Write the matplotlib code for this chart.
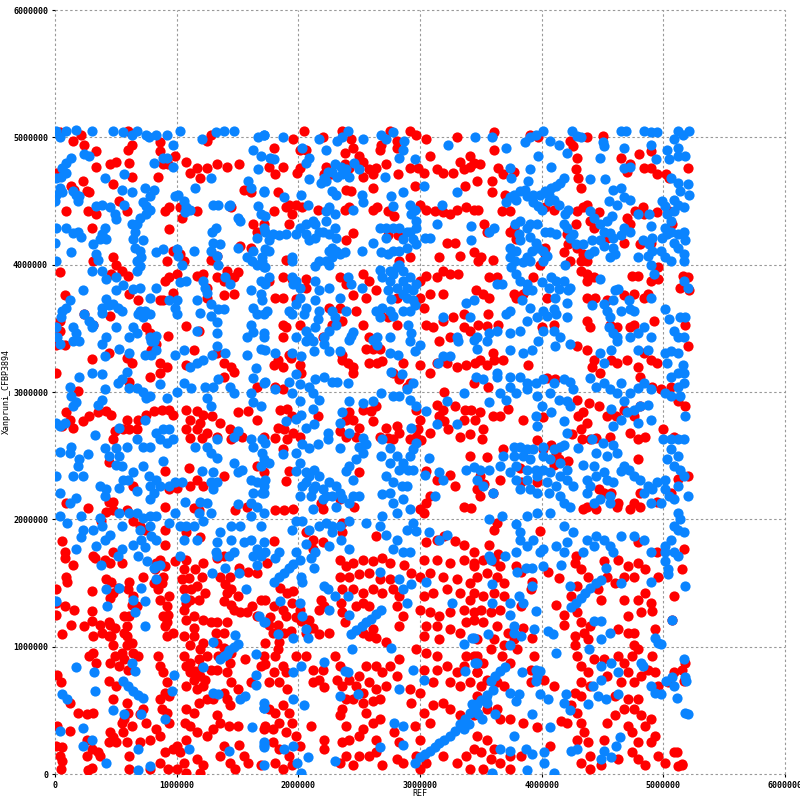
import matplotlib
matplotlib.use('Agg')
import matplotlib.pyplot as plt

# dot plot hits as (REF position, query position), in units of 10 kb
red_hits = [
    # 0-1.75 Mb x 0-1.7 Mb
    (8,170),(15,164),(9,155),(10,151),(1,145),(30,144),(33,170),(41,168),(45,166),(42,153),(46,151),(48,142),(45,138),
    (55,166),(61,151),(60,145),(64,140),(63,133),(67,132),(57,124),(59,116),(59,108),(52,146),(72,155),(81,150),(82,161),
    (86,168),(90,163),(89,155),(85,145),(86,137),(92,132),(93,125),(90,116),(92,108),(97,111),(99,167),(108,168),(106,161),
    (110,154),(115,161),(122,166),(121,155),(112,145),(111,137),(118,137),(123,142),(133,170),(140,149),(141,142),(145,145),
    (139,136),(145,133),(150,140),(147,129),(152,127),(151,162),(159,159),(166,158),(169,137),(162,132),(106,129),(108,121),
    (114,115),(122,121),(128,119),(132,111),(139,111),(141,119),(114,108),(122,103),(133,103),(139,99),(145,95),(1,134),
    (8,132),(16,129),(30,128),(1,125),(13,117),(24,116),(30,120),(37,117),(45,117),(49,115),(46,108),(6,110),(44,108),
    (48,101),(49,93),(45,87),(28,93),(34,87),(31,95),(59,101),(64,95),(68,93),(57,90),(60,82),(53,85),(44,73),(50,69),
    (48,59),(2,78),(5,72),(12,56),(19,48),(26,47),(31,48),(2,38),(12,34),(1,22),(6,21),(4,14),(6,10),(5,4),(26,27),(30,20),
    (26,14),(35,17),(30,5),(27,3),(37,14),(45,33),(48,29),(44,25),(50,25),(55,40),(56,33),(59,25),(57,43),(59,56),(60,48),
    (63,38),(61,14),(70,25),(78,27),(61,4),(78,4),(86,9),(90,17),(97,20),(100,22),(93,4),(70,47),(72,51),(75,40),(85,93),
    (86,85),(89,80),(92,72),(90,64),(94,61),(86,59),(88,51),(92,48),(94,40),(83,35),(86,30),(106,93),(111,87),(111,80),
    (114,74),(108,69),(119,77),(122,69),(117,67),(128,82),(125,93),(118,90),(125,59),(118,56),(108,51),(114,48),(107,40),
    (111,38),(117,33),(125,30),(130,35),(108,27),(103,17),(106,9),(117,12),(122,7),(133,46),(136,40),(144,54),(143,38),
    (150,38),(139,22),(136,14),(144,9),(148,4),(155,14),(159,9),(169,7),(151,23),(144,87),(141,80),(145,72),(150,67),
    (139,64),(161,72),(169,85),(172,93),(156,90),(133,119),(134,93),(133,82),(130,59),(31,108),(39,111),(44,119),(104,153),
    (108,134),(158,127),(106,108),(111,101),(119,98),(141,59),(100,4),(108,1),(119,1),(172,35),(166,124),(115,81),(121,84),
    (108,85),(123,74),(83,166),(88,150),(94,140),(89,124),(92,119),(61,124),(57,111),(63,103),(55,95),(117,148),(106,145),
    (114,124),(136,155),(144,155),
    # 1.75-3.45 Mb x 0-1.7 Mb
    (174,166),(173,137),(177,123),(183,117),(187,129),(190,124),(195,134),(191,142),(196,144),(185,146),(180,132),(198,123),
    (188,111),(194,112),(179,111),(176,117),(173,103),(184,104),(219,137),(217,129),(221,132),(209,121),(212,115),(217,110),
    (201,129),(202,120),(206,111),(225,111),(234,168),(239,163),(245,166),(253,168),(261,167),(269,170),(275,166),(234,155),
    (242,155),(250,157),(258,158),(267,153),(275,153),(236,145),(245,145),(253,142),(261,145),(269,142),(278,145),(283,140),
    (281,132),(286,124),(283,116),(235,134),(236,127),(238,119),(247,132),(253,134),(258,132),(261,114),(258,108),(253,111),
    (264,107),(272,104),(287,164),(293,158),(303,168),(314,168),(325,166),(336,168),(344,163),(300,155),(308,158),(319,155),
    (330,153),(341,150),(303,140),(311,142),(322,145),(333,142),(341,137),(300,129),(308,127),(316,124),(325,127),(336,129),
    (344,127),(305,116),(314,116),(325,114),(333,111),(338,119),(303,108),(316,106),(173,86),(181,93),(187,85),(180,80),
    (190,80),(176,72),(184,72),(191,67),(183,98),(198,93),(206,93),(212,82),(220,82),(217,74),(221,68),(212,72),(230,93),
    (234,85),(232,74),(236,69),(239,59),(245,59),(253,56),(261,57),(267,59),(250,77),(242,74),(247,69),(256,85),(264,85),
    (269,80),(275,85),(258,72),(253,64),(264,67),(272,69),(281,77),(283,90),(292,67),(300,64),(293,56),(297,98),(305,95),
    (314,93),(303,82),(314,82),(322,85),(330,80),(311,72),(325,72),(333,69),(341,72),(347,80),(338,93),(347,93),(336,85),
    (176,51),(181,48),(187,54),(192,48),(195,40),(184,40),(179,35),(190,33),(198,30),(173,38),(179,25),(184,20),(192,14),
    (181,9),(187,4),(195,7),(201,22),(210,38),(221,27),(221,20),(236,51),(234,46),(239,38),(236,25),(242,27),(239,14),
    (245,7),(234,9),(250,14),(258,14),(264,17),(253,35),(261,40),(267,43),(256,48),(264,27),(250,30),(269,7),(279,33),
    (283,25),(281,12),(286,9),(296,38),(303,48),(311,54),(319,56),(325,51),(308,40),(300,27),(297,14),(305,9),(300,4),
    (319,14),(330,9),(338,14),(344,20),(341,4),(333,46),(344,46),(347,61),
    # 3.45-5.2 Mb x 0-1.7 Mb
    (344,166),(352,168),(361,167),(366,163),(347,155),(355,158),(363,155),(369,150),(344,142),(352,140),(361,142),(369,140),
    (350,129),(358,127),(366,129),(344,121),(352,119),(363,116),(372,111),(377,106),(369,101),(361,106),(347,106),(383,132),
    (385,115),(392,107),(392,151),(391,145),(379,163),(383,159),(405,159),(414,154),(412,133),(418,125),(418,117),(427,166),
    (432,161),(438,155),(429,148),(424,140),(429,127),(432,119),(435,111),(427,108),(440,116),(438,106),(446,145),(454,155),
    (451,167),(449,137),(463,168),(471,163),(479,166),(476,155),(468,155),(460,150),(485,142),(479,137),(468,137),(490,134),
    (482,127),(491,128),(471,124),(463,114),(471,111),(476,111),(476,101),(493,114),(507,121),(515,161),(509,140),(485,161),
    (496,155),(344,93),(352,87),(347,80),(355,74),(363,72),(369,69),(350,69),(374,87),(367,93),(358,98),(380,98),(394,93),
    (391,82),(391,72),(402,74),(410,69),(427,101),(429,93),(432,85),(438,80),(443,90),(432,72),(427,64),(432,61),(440,69),
    (454,77),(451,90),(463,93),(468,87),(474,93),(479,98),(471,80),(476,72),(482,77),(487,82),(465,72),(460,61),(471,59),
    (479,59),(493,80),(496,69),(504,72),(509,80),(515,82),(491,93),(518,87),(347,48),(355,51),(363,51),(366,43),(374,43),
    (385,40),(396,37),(347,30),(355,27),(361,20),(350,17),(358,12),(366,9),(352,4),(374,4),(374,14),(383,14),(407,22),
    (424,54),(429,48),(432,40),(435,33),(429,27),(438,25),(440,14),(432,9),(440,4),(449,7),(454,40),(460,46),(468,51),
    (476,51),(482,46),(471,38),(485,38),(490,43),(474,33),(479,25),(474,17),(479,12),(485,7),(490,25),(493,30),(496,14),
    (501,9),(509,17),(515,7),(416,42),(421,40),(451,27),(463,12),(512,6),(515,8),(517,73),(511,17),
    # 0-1.75 Mb x 1.7-3.4 Mb
    (1,337),(8,337),(30,326),(44,331),(59,327),(63,323),(61,308),(79,333),(83,338),(86,323),(92,320),(78,312),(86,315),
    (1,315),(19,301),(108,321),(114,333),(133,331),(139,323),(145,320),(147,316),(139,312),(166,304),(9,284),(12,278),
    (6,273),(15,272),(23,277),(28,281),(35,284),(42,285),(46,282),(59,278),(68,278),(75,282),(81,285),(88,286),(94,286),
    (97,282),(49,269),(56,271),(61,271),(67,271),(48,263),(108,286),(117,285),(122,282),(111,278),(119,276),(108,271),
    (117,271),(125,268),(111,264),(121,264),(129,281),(136,276),(133,265),(144,271),(145,263),(154,265),(150,284),(159,285),
    (166,278),(172,265),(44,245),(90,238),(110,240),(111,226),(117,231),(64,226),(100,225),(94,224),(122,226),(139,234),
    (90,210),(27,209),(9,213),(44,214),(48,214),(59,207),(64,199),(70,195),(74,192),(42,206),(48,207),(38,199),(48,174),
    (31,171),(6,183),(8,174),(90,180),(90,192),(108,190),(114,209),(118,207),(119,186),(139,171),(148,207),(158,210),
    (166,242),(172,237),
    # 1.75-3.45 Mb x 1.7-3.4 Mb
    (180,321),(183,325),(187,320),(194,327),(201,321),(202,315),(192,329),(181,304),(187,302),(185,286),(191,287),(195,281),
    (183,272),(188,271),(196,268),(201,265),(191,263),(181,264),(187,255),(192,238),(190,230),(181,207),(188,207),(196,208),
    (219,213),(220,208),(216,281),(236,325),(241,323),(245,320),(245,315),(236,329),(256,334),(261,334),(267,334),(258,323),
    (265,323),(269,324),(278,315),(286,323),(289,304),(283,310),(292,307),(242,284),(245,278),(239,278),(234,269),(239,265),
    (250,272),(247,265),(253,286),(260,285),(264,289),(261,277),(272,272),(267,265),(274,264),(281,273),(283,268),(278,263),
    (292,263),(297,265),(300,278),(298,271),(297,286),(301,262),(308,268),(300,321),(308,315),(314,323),(322,323),(330,320),
    (338,321),(345,323),(314,290),(319,286),(316,281),(320,277),(329,289),(337,286),(342,286),(345,278),(336,278),(323,271),
    (333,265),(341,267),(320,300),(344,307),(305,238),(314,231),(308,218),(305,213),(303,205),(300,208),(325,235),(329,226),
    (336,210),(342,209),(347,224),(341,250),(250,237),(246,210),(234,216),(305,182),(314,184),(320,187),(329,183),(336,180),
    (344,174),(264,187),(180,183),(206,190),(212,184),(212,177),(236,197),(236,190),(220,182),
    # 3.45-5.2 Mb x 1.7-3.4 Mb
    (349,325),(355,321),(361,325),(368,325),(360,331),(389,321),(429,336),(437,333),(443,325),(441,320),(448,315),(457,325),
    (462,323),(470,325),(479,320),(484,331),(490,325),(495,323),(481,312),(491,304),(498,302),(506,304),(512,293),(518,289),
    (520,336),(356,304),(372,287),(349,284),(360,281),(366,281),(352,271),(351,263),(385,278),(401,280),(404,311),(411,310),
    (429,294),(439,291),(447,289),(454,281),(461,281),(468,286),(476,281),(481,289),(430,281),(434,284),(437,276),(432,271),
    (440,263),(433,263),(425,267),(445,264),(456,265),(473,268),(479,263),(485,265),(500,271),(509,265),(368,255),(355,249),
    (349,234),(353,228),(366,231),(360,221),(349,218),(396,262),(401,255),(408,258),(412,252),(414,247),(410,243),(382,240),
    (383,229),(396,229),(422,246),(479,247),(447,224),(451,221),(457,221),(463,213),(462,210),(476,213),(473,208),(481,210),
    (481,221),(506,221),(495,214),(434,208),(437,210),(445,208),(363,197),(361,192),(399,191),(357,180),(364,173),(428,171),
    (479,182),(495,174),(517,177),(512,232),(520,234),
    # 0-1.75 Mb x 3.4-5.1 Mb
    (4,504),(15,497),(21,502),(24,494),(34,489),(34,477),(45,479),(50,481),(60,490),(63,494),(61,480),(63,469),(60,505),
    (86,496),(86,489),(99,485),(93,479),(89,479),(85,469),(1,472),(13,462),(16,459),(23,466),(26,458),(28,457),(48,463),
    (53,450),(59,442),(34,440),(27,442),(9,442),(90,442),(94,445),(103,445),(104,437),(117,442),(108,481),(117,476),
    (125,476),(133,479),(141,477),(151,479),(119,468),(111,472),(128,502),(125,497),(155,459),(161,457),(145,445),(163,432),
    (166,426),(161,413),(30,429),(94,428),(97,411),(103,408),(106,403),(92,403),(48,406),(50,400),(55,395),(46,393),
    (60,391),(31,403),(4,394),(94,390),(90,387),(100,393),(117,391),(122,393),(133,390),(139,387),(141,395),(150,394),
    (147,390),(125,382),(128,404),(133,407),(152,415),(139,376),(147,377),(125,374),(86,372),(89,372),(97,378),(68,372),
    (61,377),(8,376),(45,360),(24,361),(31,353),(4,356),(4,348),(75,351),(78,346),(108,352),(118,348),(93,344),
    # 1.75-3.45 Mb x 3.4-5.1 Mb
    (205,505),(196,499),(180,492),(201,490),(206,490),(220,500),(236,505),(243,499),(245,492),(238,488),(250,485),(253,481),
    (267,490),(268,494),(275,505),(281,497),(281,492),(292,505),(297,502),(305,499),(308,485),(298,476),(303,472),(314,475),
    (319,472),(327,472),(336,475),(341,477),(344,480),(333,481),(341,485),(330,500),(337,462),(347,466),(176,477),(181,471),
    (187,477),(201,476),(199,472),(223,477),(221,471),(227,471),(238,479),(242,476),(253,469),(258,475),(264,476),(261,471),
    (272,479),(282,471),(292,476),(296,462),(261,460),(239,459),(243,458),(183,457),(192,447),(198,447),(190,445),(203,445),
    (195,440),(180,442),(216,443),(238,443),(242,445),(261,443),(265,445),(274,442),(279,438),(300,447),(305,443),(312,442),
    (319,441),(325,440),(330,443),(338,445),(344,443),(192,432),(172,432),(245,425),(239,419),(274,423),(282,423),(283,403),
    (292,406),(322,417),(329,417),(316,406),(333,407),(344,410),(190,404),(187,390),(195,389),(206,389),(176,387),(181,374),
    (187,374),(198,373),(206,382),(234,390),(239,385),(253,393),(258,387),(256,374),(264,380),(225,366),(234,366),(245,376),
    (247,364),(253,353),(236,356),(228,353),(187,353),(201,353),(190,351),(187,343),(220,343),(258,343),(267,364),(274,359),
    (281,353),(281,374),(300,387),(305,391),(314,390),(319,395),(325,393),(331,393),(308,377),(319,377),(300,374),(303,366),
    (305,353),(311,351),(319,356),(327,359),(336,351),(341,348),(325,343),(316,340),(336,361),
    # 3.45-5.2 Mb x 3.4-5.1 Mb
    (361,504),(390,502),(397,500),(423,497),(426,493),(437,500),(450,501),(465,484),(470,473),(473,479),(480,487),(484,476),
    (490,476),(495,471),(490,489),(502,471),(505,468),(520,476),(429,484),(428,475),(430,468),(432,460),(361,490),(349,479),
    (364,476),(368,471),(377,473),(359,466),(359,457),(370,455),(367,442),(374,442),(348,443),(353,432),(355,426),(374,426),
    (377,429),(379,420),(403,445),(410,443),(429,442),(434,445),(437,447),(447,441),(440,434),(443,429),(470,437),(473,432),
    (477,442),(483,445),(484,440),(495,441),(505,442),(507,432),(428,432),(421,424),(422,416),(429,413),(434,408),(437,403),
    (432,403),(454,421),(468,417),(481,416),(490,417),(496,398),(496,389),(490,387),(487,377),(484,374),(476,377),(468,376),
    (474,391),(479,391),(432,395),(437,393),(437,387),(443,390),(423,403),(393,390),(399,400),(403,408),(348,403),(350,406),
    (360,404),(357,390),(363,390),(346,380),(352,377),(357,374),(377,377),(379,374),(385,377),(404,374),(437,374),(444,374),
    (454,372),(456,353),(462,351),(473,351),(476,353),(437,356),(440,351),(356,361),(348,353),(355,352),(364,353),(400,351),
    (410,353),(492,356),(518,353),(514,382),(521,380),(520,390),(516,391),(403,413),(418,410),
]

blue_hits = [
    # 0-1.75 Mb x 0-1.7 Mb
    (38,164),(52,171),(68,171),(76,167),(83,163),(81,162),(86,164),(103,171),(133,171),(143,171),(163,171),(169,171),
    (129,158),(140,162),(151,158),(166,164),(83,153),(42,145),(53,146),(71,146),(157,145),(1,136),(43,132),(64,137),
    (74,136),(66,127),(107,138),(168,124),(172,119),(74,116),(130,104),(148,109),(139,93),(143,97),(147,100),(150,102),
    (136,90),(141,94),(165,94),(122,84),(17,84),(32,80),(63,87),(66,81),(98,78),(56,73),(60,69),(64,65),(68,62),(72,60),
    (33,65),(96,65),(6,63),(10,59),(130,64),(134,63),(152,59),(156,61),(165,78),(165,70),(172,52),(48,50),(57,47),(71,47),
    (90,43),(4,34),(23,36),(30,27),(23,22),(68,20),(110,20),(143,18),(42,9),(68,3),(78,6),(162,37),(172,25),(172,21),
    (172,56),
    # 1.75-3.45 Mb x 0-1.7 Mb
    (180,151),(184,155),(188,158),(192,162),(196,165),(201,168),(203,151),(202,155),(181,170),(210,170),(213,162),(221,148),
    (224,145),(230,140),(241,140),(225,129),(203,124),(201,134),(185,136),(173,119),(183,110),(196,107),(206,114),(208,107),
    (243,110),(247,113),(252,116),(256,119),(260,122),(264,126),(268,129),(242,125),(267,159),(283,153),(293,149),(305,151),
    (286,145),(289,134),(326,134),(344,107),(336,102),(244,98),(276,99),(221,88),(202,85),(196,80),(238,81),(241,80),
    (294,82),(303,74),(337,81),(347,87),(249,63),(234,61),(283,67),(196,59),(205,54),(172,52),(279,40),(286,38),(286,23),
    (267,21),(208,13),(230,10),(199,9),(188,20),(196,22),(172,23),(172,7),(202,1),(296,9),(300,13),(304,16),(308,18),
    (312,21),(316,24),(320,27),(325,30),(329,34),(333,39),(337,43),(341,48),(344,52),(347,55),(336,35),(340,39),
    # 3.45-5.2 Mb x 0-1.7 Mb
    (358,168),(380,159),(387,162),(392,162),(401,163),(416,164),(423,148),(453,162),(465,150),(490,151),(501,167),(504,161),
    (504,157),(512,171),(518,148),(424,131),(428,134),(432,138),(436,142),(440,146),(445,150),(449,152),(392,148),(359,149),
    (359,134),(374,134),(381,140),(385,134),(374,125),(395,128),(377,116),(377,111),(383,108),(356,110),(343,107),(374,101),
    (394,114),(405,112),(409,110),(443,120),(449,120),(456,111),(449,106),(507,121),(493,107),(496,103),(498,102),(412,95),
    (439,98),(449,85),(457,87),(449,74),(442,69),(463,80),(482,87),(483,85),(345,87),(358,73),(362,77),(366,81),(370,84),
    (384,80),(395,82),(396,77),(399,81),(395,73),(374,64),(379,57),(381,63),(399,63),(405,59),(420,63),(418,56),(438,55),
    (423,50),(446,61),(453,59),(463,63),(490,69),(493,64),(498,63),(502,73),(507,76),(509,69),(511,60),(518,76),(518,48),
    (343,55),(345,51),(348,47),(351,43),(354,59),(355,56),(350,58),(355,62),(360,66),(362,47),(392,47),(407,37),(377,30),
    (366,20),(374,18),(387,20),(392,16),(402,17),(424,18),(429,20),(451,18),(457,13),(461,22),(464,29),(449,12),(359,1),
    (388,3),(402,9),(410,1),(520,47),(517,90),(519,73),
    # 0-1.75 Mb x 1.7-3.4 Mb
    (4,338),(15,340),(39,338),(41,328),(53,334),(61,331),(74,329),(79,329),(83,333),(81,340),(99,329),(106,333),(111,320),
    (117,323),(122,325),(129,329),(133,336),(140,331),(158,329),(169,334),(165,319),(163,311),(20,312),(30,315),(39,314),
    (52,307),(55,310),(59,316),(61,303),(67,303),(72,300),(75,295),(78,297),(86,306),(92,295),(100,300),(106,307),(112,303),
    (123,304),(130,304),(134,310),(144,304),(147,299),(125,295),(128,289),(12,304),(13,297),(15,289),(17,292),(1,276),
    (4,273),(8,276),(161,299),(163,292),(169,289),(172,307),(35,290),(39,294),(41,302),(74,278),(53,272),(83,268),(89,271),
    (94,271),(97,263),(92,260),(86,263),(67,263),(72,257),(78,257),(59,257),(33,266),(41,256),(50,256),(53,250),(50,243),
    (55,242),(44,250),(4,253),(13,257),(12,252),(20,247),(27,251),(19,242),(1,234),(15,234),(23,234),(37,226),(42,224),
    (41,218),(56,231),(53,225),(60,231),(67,222),(64,237),(72,242),(77,234),(78,226),(83,231),(81,221),(86,226),(78,216),
    (89,246),(94,226),(99,229),(104,229),(107,214),(119,214),(118,205),(128,205),(125,213),(130,224),(128,229),(130,237),
    (133,229),(121,238),(115,257),(125,257),(128,252),(133,248),(133,263),(147,265),(150,269),(161,263),(163,257),(170,263),
    (147,244),(150,237),(154,239),(161,231),(166,229),(172,226),(163,221),(161,213),(166,210),(172,205),(161,203),(169,195),
    (172,247),(169,242),(4,221),(12,213),(17,217),(4,203),(10,197),(21,203),(23,192),(31,192),(21,186),(37,201),(39,195),
    (41,184),(34,179),(45,188),(53,205),(55,195),(61,205),(67,205),(72,201),(70,192),(78,203),(83,203),(78,195),(71,184),
    (79,187),(83,184),(64,180),(74,178),(55,177),(99,205),(94,197),(103,195),(108,195),(114,195),(122,199),(106,184),
    (117,184),(133,182),(132,174),(147,174),(136,190),(145,195),(152,195),(145,184),(155,182),(161,184),(166,177),(172,182),
    (17,177),(150,212),(172,221),
    # 1.75-3.45 Mb x 1.7-3.4 Mb
    (173,333),(181,331),(195,331),(202,328),(206,340),(212,340),(213,332),(225,332),(221,338),(234,332),(242,341),(261,341),
    (265,337),(275,331),(282,329),(292,340),(296,332),(300,337),(319,328),(325,328),(315,323),(331,340),(344,341),(347,334),
    (173,308),(181,302),(192,308),(198,314),(201,306),(209,304),(214,310),(221,312),(228,308),(232,308),(241,307),(212,299),
    (217,294),(212,287),(195,299),(201,293),(202,282),(198,279),(190,277),(276,316),(285,314),(294,307),(289,302),(283,297),
    (292,294),(297,289),(268,299),(278,297),(253,291),(261,293),(242,293),(236,284),(234,276),(224,268),(242,268),(253,264),
    (250,257),(256,259),(234,256),(206,272),(213,275),(224,263),(330,275),(336,299),(322,293),(314,275),(305,285),(293,272),
    (173,260),(170,252),(176,244),(173,231),(170,221),(187,251),(198,252),(203,259),(209,256),(216,259),(201,244),(198,238),
    (206,237),(213,239),(209,234),(214,226),(203,226),(201,218),(210,218),(220,224),(225,229),(231,226),(234,221),(228,218),
    (220,216),(231,210),(236,217),(242,213),(245,218),(250,218),(212,208),(198,199),(203,199),(195,192),(209,192),(217,195),
    (223,197),(228,195),(234,195),(228,190),(235,184),(225,179),(242,199),(242,177),(256,197),(267,195),(272,188),(281,184),
    (278,177),(286,174),(292,174),(289,192),(294,197),(297,191),(307,190),(316,184),(322,188),(173,174),(184,174),(198,174),
    (206,181),(214,174),(253,252),(242,242),(239,238),(245,231),(247,247),(269,263),(275,256),(268,250),(275,244),(281,250),
    (283,239),(286,244),(292,250),(294,255),(297,260),(290,239),(294,239),(272,234),(278,229),(275,221),(285,226),(289,226),
    (269,220),(278,213),(286,216),(281,205),(269,203),(292,208),(307,248),(304,235),(316,237),(319,231),(312,218),(338,239),
    (344,241),(347,231),(206,229),(217,234),(223,218),(212,224),
    # 3.45-5.2 Mb x 1.7-3.4 Mb
    (355,340),(374,333),(385,331),(392,333),(397,340),(411,336),(423,338),(448,331),(457,333),(462,340),(479,333),(487,333),
    (501,331),(506,332),(512,331),(516,321),(503,323),(451,323),(363,312),(374,312),(382,312),(388,307),(395,307),(401,310),
    (410,307),(418,310),(423,308),(366,299),(371,294),(379,299),(388,302),(396,297),(400,289),(407,299),(414,294),(421,293),
    (426,302),(423,289),(357,292),(374,304),(408,284),(418,277),(395,281),(396,273),(346,312),(352,310),(363,315),(440,311),
    (445,304),(451,307),(456,302),(465,307),(462,299),(473,299),(479,303),(484,307),(490,302),(468,293),(457,287),(459,273),
    (465,278),(470,284),(476,286),(481,289),(487,290),(490,278),(479,276),(506,312),(512,315),(517,315),(501,299),(506,297),
    (514,297),(517,307),(512,304),(518,281),(421,268),(418,258),(430,256),(434,243),(443,242),(445,252),(450,260),(441,263),
    (454,250),(459,258),(462,252),(465,238),(468,242),(472,239),(476,234),(481,231),(487,226),(491,224),(495,229),(484,221),
    (500,263),(506,263),(512,263),(517,263),(506,255),(512,250),(503,247),(509,242),(514,239),(517,234),(501,231),(501,224),
    (505,218),(512,226),(520,218),(490,213),(498,213),(509,216),(377,257),(382,257),(388,255),(393,255),(401,257),(410,255),
    (415,257),(368,250),(377,250),(385,250),(390,247),(401,250),(407,247),(415,244),(421,239),(374,237),(379,242),(388,239),
    (395,239),(401,239),(407,237),(415,234),(421,231),(426,226),(379,231),(388,231),(396,234),(404,229),(412,226),(382,224),
    (390,224),(396,221),(406,221),(415,218),(418,213),(357,239),(366,242),(349,239),(352,226),(360,221),(437,231),(440,226),
    (445,234),(451,237),(454,231),(459,229),(456,218),(456,213),(443,213),(437,221),(448,216),(423,210),(357,200),(367,203),
    (379,196),(388,203),(396,205),(407,205),(418,195),(426,190),(382,190),(382,184),(388,179),(393,184),(401,177),(399,174),
    (412,179),(421,182),(379,174),(437,184),(445,187),(443,179),(451,184),(456,179),(459,174),(465,187),(476,187),(484,184),
    (490,174),(501,179),(506,184),(512,192),(514,200),(512,205),(509,195),(517,190),(501,174),(509,174),(418,174),(357,171),
    (370,171),(434,174),
    # 0-1.75 Mb x 3.4-5.1 Mb
    (1,505),(4,500),(9,505),(17,506),(30,505),(48,505),(56,504),(63,502),(67,505),(75,502),(77,500),(83,502),(92,502),
    (97,494),(103,505),(121,499),(132,504),(139,505),(147,505),(167,500),(172,502),(163,490),(169,485),(13,484),(9,480),
    (6,476),(5,469),(1,468),(9,472),(4,460),(1,455),(6,457),(0,450),(24,487),(28,485),(57,471),(41,468),(55,459),(63,457),
    (81,480),(89,484),(92,484),(97,477),(74,460),(81,459),(78,454),(72,449),(75,446),(99,454),(101,455),(106,450),(108,445),
    (107,441),(111,443),(115,460),(128,468),(134,447),(143,446),(150,437),(152,434),(159,466),(161,460),(167,475),(172,458),
    (167,446),(169,440),(172,429),(166,421),(170,406),(163,411),(15,458),(17,455),(19,450),(20,454),(34,446),(39,447),
    (45,445),(49,440),(50,436),(57,447),(70,437),(67,432),(66,426),(64,420),(66,413),(70,411),(71,406),(67,403),(72,419),
    (75,440),(78,443),(63,432),(41,429),(39,424),(37,420),(42,420),(31,416),(34,408),(35,404),(19,426),(21,422),(15,425),
    (1,429),(9,429),(0,417),(13,410),(1,403),(39,395),(30,395),(42,389),(50,390),(67,395),(70,399),(83,410),(89,412),
    (100,412),(101,407),(104,400),(108,387),(103,386),(114,411),(128,411),(133,407),(130,417),(136,416),(134,400),(129,426),
    (132,429),(144,447),(130,447),(150,413),(158,406),(162,403),(166,400),(172,398),(169,387),(161,380),(144,385),(140,390),
    (122,387),(123,382),(125,378),(117,372),(128,369),(134,365),(139,365),(128,360),(119,362),(117,348),(133,355),(133,346),
    (100,372),(99,366),(100,361),(94,372),(83,382),(78,374),(70,382),(64,381),(56,384),(50,380),(42,373),(39,366),(44,368),
    (48,369),(52,366),(55,364),(70,364),(74,364),(78,361),(72,359),(68,361),(64,351),(67,346),(78,343),(83,344),(79,340),
    (23,380),(12,372),(9,366),(6,364),(5,359),(24,361),(28,356),(31,353),(30,351),(39,362),(50,351),(61,343),(42,343),
    (15,351),(17,346),(20,340),(2,343),(1,351),(163,366),(166,361),(172,361),(161,353),(163,347),(172,346),(158,343),
    (169,377),
    # 1.75-3.45 Mb x 3.4-5.1 Mb
    (172,502),(187,500),(203,492),(217,499),(223,490),(232,497),(236,500),(241,505),(253,499),(268,502),(272,499),(278,504),
    (287,497),(286,490),(323,494),(345,500),(283,484),(296,483),(177,484),(180,483),(206,480),(209,484),(230,479),(235,477),
    (239,475),(236,471),(232,469),(228,473),(224,473),(221,468),(219,464),(223,466),(242,469),(246,480),(250,475),(271,469),
    (209,467),(172,457),(188,453),(202,455),(208,447),(223,442),(225,445),(230,440),(245,443),(231,455),(228,458),(252,455),
    (253,449),(276,454),(278,446),(286,457),(292,447),(293,440),(296,443),(297,434),(297,429),(292,426),(294,420),(297,416),
    (289,426),(283,429),(278,429),(272,429),(267,429),(272,421),(286,420),(289,413),(283,411),(278,411),(274,408),(268,410),
    (261,417),(318,447),(303,462),(330,457),(314,432),(342,430),(342,419),(304,421),(308,421),(252,411),(238,410),(231,411),
    (234,408),(228,406),(225,411),(223,403),(217,403),(214,399),(225,400),(231,421),(228,413),(230,429),(225,424),(220,426),
    (214,432),(212,434),(206,432),(201,429),(206,424),(198,424),(209,419),(214,421),(217,426),(223,434),(173,438),(173,426),
    (179,424),(184,423),(190,424),(176,419),(173,412),(176,411),(170,403),(173,398),(195,406),(176,390),(173,385),(170,372),
    (195,390),(198,387),(196,385),(195,403),(201,382),(201,374),(214,387),(217,380),(214,372),(217,364),(216,357),(225,382),
    (234,374),(241,390),(243,385),(252,382),(239,364),(228,364),(230,359),(231,353),(225,348),(221,343),(214,351),(206,348),
    (209,343),(198,343),(205,361),(206,366),(195,361),(198,369),(192,364),(172,343),(174,364),(245,347),(243,344),(264,364),
    (269,366),(267,359),(275,364),(278,360),(265,343),(275,343),(267,396),(269,390),(275,395),(275,387),(278,393),(281,398),
    (283,400),(286,395),(286,387),(289,382),(292,390),(281,382),(286,377),(289,374),(294,380),(297,385),(294,372),(292,364),
    (286,364),(290,353),(293,346),(296,368),(276,373),(274,380),(319,359),(330,343),(341,359),(344,372),(338,370),(347,343),
    # 3.45-5.2 Mb x 3.4-5.1 Mb
    (359,500),(371,492),(386,496),(390,500),(395,502),(401,505),(407,497),(414,494),(421,488),(425,505),(429,501),(432,500),
    (450,496),(451,493),(465,505),(469,505),(484,505),(490,504),(495,504),(490,494),(494,483),(468,492),(473,477),(448,484),
    (440,467),(452,467),(459,459),(465,460),(455,450),(462,447),(468,453),(473,451),(458,438),(454,434),(468,476),(374,476),
    (375,468),(390,475),(397,485),(408,477),(418,468),(415,464),(412,462),(408,460),(403,458),(406,455),(410,451),(414,447),
    (406,450),(397,446),(400,443),(389,466),(386,459),(382,458),(377,455),(374,453),(371,449),(379,451),(388,454),(393,455),
    (393,449),(399,455),(419,440),(422,443),(418,432),(421,429),(426,424),(423,421),(412,424),(407,426),(403,426),(396,432),
    (390,432),(382,434),(378,432),(381,424),(388,429),(390,422),(395,417),(397,413),(401,411),(404,407),(401,403),(392,411),
    (388,406),(390,403),(385,402),(378,403),(375,398),(379,393),(382,387),(388,385),(388,380),(392,380),(400,386),(406,382),
    (408,390),(412,387),(414,381),(418,387),(423,382),(419,400),(440,442),(443,437),(448,432),(451,426),(448,419),(451,415),
    (443,411),(439,408),(434,416),(428,416),(441,419),(456,425),(459,421),(459,413),(456,406),(460,408),(465,423),(468,429),
    (473,426),(479,440),(488,440),(490,430),(491,421),(488,416),(491,411),(490,400),(492,393),(483,419),(479,406),(487,407),
    (499,450),(501,446),(512,505),(516,502),(521,505),(509,499),(512,492),(503,490),(505,483),(512,485),(518,485),(506,468),
    (512,464),(520,463),(514,458),(509,451),(512,447),(517,445),(521,455),(503,440),(509,442),(506,434),(501,429),(506,426),
    (512,424),(517,426),(518,419),(509,417),(512,413),(517,408),(517,403),(503,424),(499,421),(498,411),(501,406),(506,403),
    (379,411),(382,419),(374,413),(374,406),(357,426),(361,429),(363,385),(367,385),(384,372),(390,366),(401,364),(410,365),
    (421,370),(412,361),(421,359),(404,360),(396,359),(388,356),(382,348),(374,346),(371,361),(374,364),(357,346),(363,348),
    (401,348),(410,348),(415,343),(441,368),(451,369),(454,364),(456,359),(465,364),(476,364),(455,351),(459,346),(462,343),
    (473,343),(479,346),(484,351),(490,343),(501,365),(505,357),(512,343),(517,343),(509,348),(514,359),(518,359),(517,387),
    (520,382),(411,374),(422,380),(448,389),(460,380),(463,381),(459,372),(472,372),(473,365),(490,374),
]

UNIT = 10000
ticks = [0, 1000000, 2000000, 3000000, 4000000, 5000000, 6000000]
tick_labels = [str(t) for t in ticks]

red_x = [p[0] * UNIT for p in red_hits]
red_y = [p[1] * UNIT for p in red_hits]
blue_x = [p[0] * UNIT for p in blue_hits]
blue_y = [p[1] * UNIT for p in blue_hits]

fig = plt.figure(figsize=(8, 8), dpi=100)
ax = fig.add_axes([0.06875, 0.0325, 0.9125, 0.955])

ax.scatter(red_x, red_y, s=54, c='#ff0000', linewidths=0, zorder=2)
ax.scatter(blue_x, blue_y, s=54, c='#0a84ff', linewidths=0, zorder=3)

ax.set_xlim(0, 6000000)
ax.set_ylim(0, 6000000)
ax.set_xticks(ticks)
ax.set_yticks(ticks)
ax.set_xticklabels(tick_labels, family='DejaVu Sans Mono', fontsize=6, fontweight='bold')
ax.set_yticklabels(tick_labels, family='DejaVu Sans Mono', fontsize=6, fontweight='bold')
ax.tick_params(length=2, width=0.8, pad=3, colors='black')

ax.grid(True, color='#999999', linestyle=(0, (2.2, 2.2)), linewidth=0.8)
for gl in ax.get_xgridlines() + ax.get_ygridlines():
    gl.set_clip_on(False)
ax.set_axisbelow(True)
for s in ax.spines.values():
    s.set_visible(False)

ax.set_xlabel('REF', family='DejaVu Sans Mono', fontsize=6)
ax.set_ylabel('Xanpruni_CFBP3894', family='DejaVu Sans Mono', fontsize=6)
ax.xaxis.set_label_coords(0.5, -0.0196)
ax.yaxis.set_label_coords(-0.061, 0.5)

fig.savefig('out.png', dpi=100)
